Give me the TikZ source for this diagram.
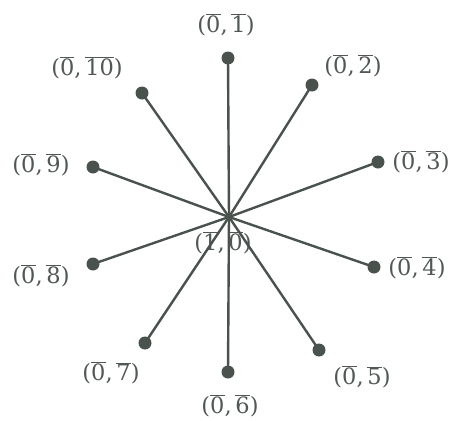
\documentclass[tikz,border=0pt]{standalone}
\usepackage{fontspec}
\setmainfont{DejaVu Serif}
\definecolor{linec}{HTML}{4A524E}
\definecolor{textc}{HTML}{515854}
\newcommand{\ob}[1]{\ensuremath{\overline{\hbox{#1}}}}
\newcommand{\mylab}[2]{(\ob{#1},\,\ob{#2})}
\begin{document}
\begin{tikzpicture}[x=1pt,y=-1pt,
  spoke/.style={draw=linec,line width=2.4pt},
  dot/.style={circle,fill=linec,inner sep=0pt,minimum size=13pt},
  lab/.style={text=textc,inner sep=0pt,font=\fontsize{22.5}{26}\selectfont}]
\useasboundingbox (0,0) rectangle (451,421);
\fill[white] (0,0) rectangle (451,421);
% labels
\node[lab] (l1) at (226,25) {\mylab{0}{1}};
\node[lab] (l2) at (353,66) {\mylab{0}{2}};
\node[lab] (l3) at (421,162) {\mylab{0}{3}};
\node[lab] (l4) at (417,268) {\mylab{0}{4}};
\node[lab] (l5) at (362,377) {\mylab{0}{5}};
\node[lab] (l6) at (230,406) {\mylab{0}{6}};
\node[lab] (l7) at (111,373) {\mylab{0}{7}};
\node[lab] (l8) at (41,276) {\mylab{0}{8}};
\node[lab] (l9) at (41,165) {\mylab{0}{9}};
\node[lab] (l10) at (87,68) {\mylab{0}{10}};
\node[lab] (lc) at (223,243) {\mylab{1}{0}};
% points
\coordinate (c) at (229,217);
\node[dot] (p1) at (228,58) {};
\node[dot] (p2) at (312,85) {};
\node[dot] (p3) at (378,162) {};
\node[dot] (p4) at (374,267) {};
\node[dot] (p5) at (319,350) {};
\node[dot] (p6) at (228,372) {};
\node[dot] (p7) at (145,343) {};
\node[dot] (p8) at (93,264) {};
\node[dot] (p9) at (93,167) {};
\node[dot] (p10) at (142,93) {};
\foreach \i in {1,...,10} \draw[spoke] (c) -- (p\i.center);
\end{tikzpicture}
\end{document}
